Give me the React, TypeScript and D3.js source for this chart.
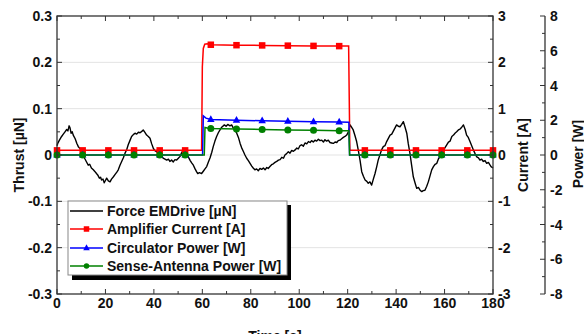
import React from "react";
import * as d3 from "d3";

// ---------- data ----------
const FORCE_TIME = [
  0, 0.3, 1.0, 1.9, 2.6, 3.3, 4.0, 4.5, 5.0, 5.4, 5.8, 6.3, 6.7, 7.5, 8.2, 8.8, 9.5, 10.2, 10.9, 11.5,
  12.2, 12.9, 13.5, 14.2, 15.0, 15.7, 16.3, 16.8, 17.5, 18.0, 18.4, 19.0, 19.5, 20.0, 20.5, 21.2, 21.9, 22.5, 23.3, 24.0,
  24.7, 25.3, 26.0, 26.7, 27.4, 28.1, 28.8, 29.4, 30.1, 30.8, 31.5, 32.2, 32.9, 33.6, 34.3, 35.0, 35.6, 36.3, 37.0, 37.7,
  38.4, 39.1, 39.8, 40.5, 41.2, 42.2, 43.2, 44.2, 45.3, 46.0, 46.6, 47.3, 48.0, 48.7, 49.4, 50.1, 50.8, 51.4, 52.1, 52.8,
  53.5, 54.2, 55.0, 55.6, 56.3, 57.0, 57.6, 58.1, 58.8, 59.7, 60.4, 61.1, 61.8, 62.5, 63.2, 63.9, 64.5, 65.2, 65.9, 66.6,
  67.3, 68.0, 69.1, 69.8, 70.5, 71.4, 72.1, 72.8, 73.5, 74.2, 74.9, 75.6, 76.2, 76.9, 77.6, 78.3, 79.0, 79.7, 80.4, 81.0,
  81.7, 82.4, 83.1, 83.8, 84.5, 85.2, 85.9, 86.6, 87.2, 87.9, 88.6, 89.3, 90.0, 90.7, 91.4, 92.1, 92.8, 93.5, 94.1, 94.8,
  95.5, 96.2, 96.9, 97.6, 98.3, 99.0, 99.6, 100.3, 101.0, 101.7, 102.4, 103.1, 103.8, 104.5, 105.1, 105.8, 106.5, 107.2, 107.9, 108.6,
  109.3, 110.0, 110.6, 111.3, 112.0, 112.7, 113.4, 114.1, 114.8, 115.5, 116.1, 116.8, 117.5, 118.2, 118.9, 119.6, 120.3, 121.0, 121.6, 122.3,
  123.0, 123.7, 124.4, 125.1, 125.8, 126.5, 127.2, 127.9, 128.5, 129.2, 129.9, 130.6, 131.3, 132.0, 132.6, 133.3, 134.0, 134.7, 135.4, 136.1,
  136.8, 137.5, 138.2, 138.9, 139.5, 140.2, 140.9, 141.6, 142.3, 143.0, 143.7, 144.4, 145.0, 145.7, 146.4, 147.1, 147.8, 148.5, 149.2, 149.9,
  150.6, 151.2, 151.9, 152.6, 153.3, 154.0, 154.7, 155.4, 156.1, 156.8, 157.5, 158.1, 158.8, 159.5, 160.2, 160.9, 161.6, 162.3, 163.0, 163.7,
  164.3, 165.0, 165.7, 166.4, 167.1, 167.8, 168.5, 169.1, 169.8, 170.5, 171.2, 171.9, 172.6, 173.3, 174.0, 174.6, 175.3, 176.0, 176.7, 177.4,
  178.1, 178.8, 179.2, 180,
];
const FORCE_THRUST = [
  0.02, 0.025, 0.032, 0.04, 0.045, 0.05, 0.055, 0.052, 0.063, 0.058, 0.047, 0.05, 0.043, 0.035, 0.025, 0.018, 0.014, 0.006, 0.0, -0.008,
  -0.015, -0.022, -0.02, -0.028, -0.032, -0.036, -0.04, -0.043, -0.05, -0.048, -0.054, -0.052, -0.06, -0.055, -0.05, -0.056, -0.058, -0.052, -0.047, -0.042,
  -0.037, -0.032, -0.022, -0.014, -0.006, 0.004, 0.012, 0.022, 0.031, 0.04, 0.044, 0.047, 0.045, 0.049, 0.048, 0.051, 0.054, 0.049, 0.043, 0.04,
  0.036, 0.024, 0.014, 0.009, 0.007, 0.0, -0.004, -0.008, -0.011, -0.009, -0.014, -0.011, -0.015, -0.01, -0.011, -0.007, -0.003, 0.004, 0.011, 0.006,
  0.002, -0.004, -0.012, -0.017, -0.022, -0.03, -0.036, -0.04, -0.038, -0.04, -0.035, -0.03, -0.025, -0.015, -0.006, 0.006, 0.018, 0.03, 0.04, 0.048,
  0.054, 0.06, 0.065, 0.062, 0.066, 0.063, 0.065, 0.058, 0.053, 0.047, 0.038, 0.025, 0.016, 0.008, 0.0, -0.007, -0.012, -0.018, -0.024, -0.028,
  -0.032, -0.03, -0.034, -0.029, -0.031, -0.028, -0.032, -0.027, -0.029, -0.025, -0.021, -0.019, -0.016, -0.014, -0.011, -0.01, -0.005, -0.007, 0.0, 0.003,
  0.007, 0.004, 0.01, 0.008, 0.011, 0.015, 0.013, 0.02, 0.022, 0.019, 0.026, 0.024, 0.029, 0.027, 0.031, 0.028, 0.032, 0.03, 0.034, 0.031,
  0.032, 0.028, 0.033, 0.03, 0.032, 0.027, 0.026, 0.025, 0.028, 0.027, 0.031, 0.032, 0.035, 0.038, 0.04, 0.043, 0.05, 0.065, 0.06, 0.054,
  0.042, 0.029, 0.01, -0.011, -0.036, -0.046, -0.054, -0.057, -0.061, -0.058, -0.065, -0.052, -0.04, -0.025, -0.011, 0.0, 0.011, 0.018, 0.02, 0.029,
  0.036, 0.043, 0.045, 0.052, 0.058, 0.065, 0.062, 0.061, 0.066, 0.072, 0.06, 0.047, 0.025, 0.004, -0.022, -0.047, -0.06, -0.072, -0.07, -0.076,
  -0.079, -0.077, -0.076, -0.068, -0.058, -0.045, -0.032, -0.025, -0.02, -0.018, -0.008, -0.004, 0.004, 0.01, 0.016, 0.022, 0.028, 0.03, 0.04, 0.043,
  0.047, 0.05, 0.054, 0.056, 0.06, 0.065, 0.055, 0.043, 0.038, 0.029, 0.02, 0.011, 0.003, -0.004, -0.006, -0.011, -0.009, -0.014, -0.012, -0.018,
  -0.016, -0.022, -0.025, -0.028,
];

const MARKER_TIMES = [0, 10.6, 21.2, 31.8, 42.4, 52.9, 63.5, 74.1, 84.7, 95.3, 105.9, 116.5, 127.1, 137.6, 148.2, 158.8, 169.4, 180];

const AMP_TIME = [0, 10.6, 21.2, 31.8, 42.4, 52.9, 59.7, 60.0, 60.4, 61.0, 62.0, 63.5, 74.1, 84.7, 95.3, 105.9, 116.5, 120.4, 120.9, 127.1, 137.6, 148.2, 158.8, 169.4, 180];
const AMP_CURRENT = [0.1, 0.1, 0.1, 0.1, 0.1, 0.1, 0.1, 1.9, 2.3, 2.39, 2.4, 2.38, 2.37, 2.365, 2.36, 2.355, 2.35, 2.35, 0.1, 0.1, 0.1, 0.1, 0.1, 0.1, 0.1];

const CIRC_TIME = [0, 10.6, 21.2, 31.8, 42.4, 52.9, 60.1, 60.4, 61.5, 63.5, 74.1, 84.7, 95.3, 105.9, 116.5, 120.5, 120.8, 127.1, 137.6, 148.2, 158.8, 169.4, 180];
const CIRC_POWER = [0, 0, 0, 0, 0, 0, 0, 2.25, 2.12, 2.05, 2.0, 1.97, 1.94, 1.92, 1.9, 1.89, 0, 0, 0, 0, 0, 0, 0];

const SENSE_TIME = [0, 10.6, 21.2, 31.8, 42.4, 52.9, 60.8, 61.1, 62.0, 63.5, 74.1, 84.7, 95.3, 105.9, 116.5, 120.5, 120.8, 127.1, 137.6, 148.2, 158.8, 169.4, 180];
const SENSE_POWER = [0, 0, 0, 0, 0, 0, 0, 1.58, 1.55, 1.53, 1.5, 1.47, 1.44, 1.42, 1.4, 1.39, 0, 0, 0, 0, 0, 0, 0];

const X_TICKS = [0, 20, 40, 60, 80, 100, 120, 140, 160, 180];
const THRUST_TICKS = [0.3, 0.2, 0.1, 0, -0.1, -0.2, -0.3];
const CURRENT_TICKS = [3, 2, 1, 0, -1, -2, -3];
const POWER_TICKS = [8, 6, 4, 2, 0, -2, -4, -6, -8];

const LEGEND_LABELS = ["Force EMDrive [\u00b5N]", "Amplifier Current [A]", "Circulator Power [W]", "Sense-Antenna Power [W]"];

// ---------- layout ----------
const W = 584, H = 334;
const L = 57, R = 493, T = 16, B = 294;
const PX = 545;
const FONT = "'Liberation Sans', Arial, Helvetica, sans-serif";
const INK = "#111";
const AXIS = "#333";

const x = d3.scaleLinear().domain([0, 180]).range([L, R]);
const yT = d3.scaleLinear().domain([-0.3, 0.3]).range([B, T]);
const yC = d3.scaleLinear().domain([-3, 3]).range([B, T]);
const yP = d3.scaleLinear().domain([-8, 8]).range([B, T]);

const fmt = (v: number) => (v === 0 ? "0" : String(v));

function Square({ cx, cy, s }: { cx: number; cy: number; s: number }) {
  return <rect x={cx - s / 2} y={cy - s / 2} width={s} height={s} fill="#ff0000" />;
}
function Tri({ cx, cy, s }: { cx: number; cy: number; s: number }) {
  const h = s * 0.9;
  return <path d={`M${cx},${cy - h * 0.62}L${cx + s / 2},${cy + h * 0.38}L${cx - s / 2},${cy + h * 0.38}Z`} fill="#0000ff" />;
}
function Dot({ cx, cy, s }: { cx: number; cy: number; s: number }) {
  return <circle cx={cx} cy={cy} r={s / 2} fill="#008000" />;
}

export default function App() {
  const forceLine = d3.line<number>().x((_, i) => x(FORCE_TIME[i])).y((v) => yT(v))(FORCE_THRUST) || "";
  const mk = (ts: number[], vs: number[], ys: d3.ScaleLinear<number, number>) =>
    d3.line<number>().x((_, i) => x(ts[i])).y((v) => ys(v))(vs) || "";
  const ampLine = mk(AMP_TIME, AMP_CURRENT, yC);
  const circLine = mk(CIRC_TIME, CIRC_POWER, yP);
  const senseLine = mk(SENSE_TIME, SENSE_POWER, yP);

  const markerIdx = (ts: number[]) => ts.map((t, i) => (MARKER_TIMES.includes(t) ? i : -1)).filter((i) => i >= 0);

  const xMinor = d3.range(0, 181, 10);
  const tMinor = d3.range(-6, 7).map((v) => v * 0.05);
  const cMinor = d3.range(-6, 7).map((v) => v * 0.5);
  const pMinor = d3.range(-8, 9);

  const legX0 = 68, legY0 = 201, legW = 219, legH = 74;
  const rowY = [211, 229, 248, 266];
  const legColors = ["#000", "#ff0000", "#0000ff", "#008000"];

  return (
    <svg width={W} height={H} style={{ position: "absolute", left: 0, top: 0, background: "#fff" }} fontFamily={FONT}>
      {/* grid */}
      {THRUST_TICKS.filter((v) => v !== 0.3 && v !== -0.3).map((v) => (
        <line key={"g" + v} x1={L} x2={R} y1={yT(v)} y2={yT(v)} stroke="#e3e3e3" strokeWidth={1} />
      ))}

      {/* series */}
      <path d={forceLine} fill="none" stroke="#000" strokeWidth={1.4} strokeLinejoin="round" />
      <path d={ampLine} fill="none" stroke="#ff0000" strokeWidth={1.5} />
      {markerIdx(AMP_TIME).map((i) => (
        <Square key={"a" + i} cx={x(AMP_TIME[i])} cy={yC(AMP_CURRENT[i])} s={6.5} />
      ))}
      <path d={circLine} fill="none" stroke="#0000ff" strokeWidth={1.5} />
      {markerIdx(CIRC_TIME).map((i) => (
        <Tri key={"c" + i} cx={x(CIRC_TIME[i])} cy={yP(CIRC_POWER[i])} s={7.5} />
      ))}
      <path d={senseLine} fill="none" stroke="#008000" strokeWidth={1.5} />
      {markerIdx(SENSE_TIME).map((i) => (
        <Dot key={"s" + i} cx={x(SENSE_TIME[i])} cy={yP(SENSE_POWER[i])} s={7} />
      ))}

      {/* frame */}
      <rect x={L} y={T} width={R - L} height={B - T} fill="none" stroke={AXIS} strokeWidth={1.3} />

      {/* x ticks bottom & top */}
      {xMinor.map((v) => {
        const len = v % 20 === 0 ? 5 : 3;
        return (
          <g key={"xt" + v}>
            <line x1={x(v)} x2={x(v)} y1={B} y2={B - len} stroke={AXIS} strokeWidth={1} />
            <line x1={x(v)} x2={x(v)} y1={T} y2={T + len} stroke={AXIS} strokeWidth={1} />
          </g>
        );
      })}
      {X_TICKS.map((v) => (
        <text key={"xl" + v} x={x(v)} y={308} textAnchor="middle" fontSize={14} fontWeight="bold" fill={INK}>
          {v}
        </text>
      ))}
      <text x={(L + R) / 2} y={341} textAnchor="middle" fontSize={14} fontWeight="bold" fill={INK}>
        Time [s]
      </text>

      {/* left axis */}
      {tMinor.map((v, i) => (
        <line key={"tt" + i} x1={L} x2={L + (i % 2 === 0 ? 5 : 3)} y1={yT(v)} y2={yT(v)} stroke={AXIS} strokeWidth={1} />
      ))}
      {THRUST_TICKS.map((v) => (
        <text key={"tl" + v} x={52} y={yT(v) + 5} textAnchor="end" fontSize={14} fontWeight="bold" fill={INK}>
          {fmt(v)}
        </text>
      ))}
      <text transform={`translate(24,155) rotate(-90)`} textAnchor="middle" fontSize={14} fontWeight="bold" fill={INK}>
        Thrust [µN]
      </text>

      {/* current axis */}
      {cMinor.map((v, i) => (
        <line key={"ct" + i} x1={R} x2={R - (i % 2 === 0 ? 5 : 3)} y1={yC(v)} y2={yC(v)} stroke={AXIS} strokeWidth={1} />
      ))}
      {CURRENT_TICKS.map((v) => (
        <text key={"cl" + v} x={498} y={yC(v) + 5} textAnchor="start" fontSize={14} fontWeight="bold" fill={INK}>
          {fmt(v)}
        </text>
      ))}
      <text transform={`translate(528,155) rotate(-90)`} textAnchor="middle" fontSize={14} fontWeight="bold" fill={INK}>
        Current [A]
      </text>

      {/* power axis */}
      <line x1={PX} x2={PX} y1={T} y2={B} stroke={AXIS} strokeWidth={1.3} />
      {pMinor.map((v) => (
        <line key={"pt" + v} x1={PX} x2={PX - (v % 2 === 0 ? 5 : 3)} y1={yP(v)} y2={yP(v)} stroke={AXIS} strokeWidth={1} />
      ))}
      {POWER_TICKS.map((v) => (
        <text key={"pl" + v} x={550} y={yP(v) + 5} textAnchor="start" fontSize={14} fontWeight="bold" fill={INK}>
          {fmt(v)}
        </text>
      ))}
      <text transform={`translate(583,154) rotate(-90)`} textAnchor="middle" fontSize={14} fontWeight="bold" fill={INK}>
        Power [W]
      </text>

      {/* legend */}
      <rect x={legX0 + 4} y={legY0 + 4} width={legW} height={legH + 1} fill="#000" />
      <rect x={legX0} y={legY0} width={legW} height={legH} fill="#fff" stroke="#888" strokeWidth={1} />
      {LEGEND_LABELS.map((lab, i) => (
        <g key={"lg" + i}>
          <line x1={70} x2={103} y1={rowY[i]} y2={rowY[i]} stroke={legColors[i]} strokeWidth={1.5} />
          {i === 1 && <Square cx={86.5} cy={rowY[i]} s={5.5} />}
          {i === 2 && <Tri cx={86.5} cy={rowY[i]} s={6.5} />}
          {i === 3 && <Dot cx={86.5} cy={rowY[i]} s={5.5} />}
          <text x={107} y={rowY[i] + 5} fontSize={14} fontWeight="bold" fill={INK}>
            {lab}
          </text>
        </g>
      ))}
    </svg>
  );
}
